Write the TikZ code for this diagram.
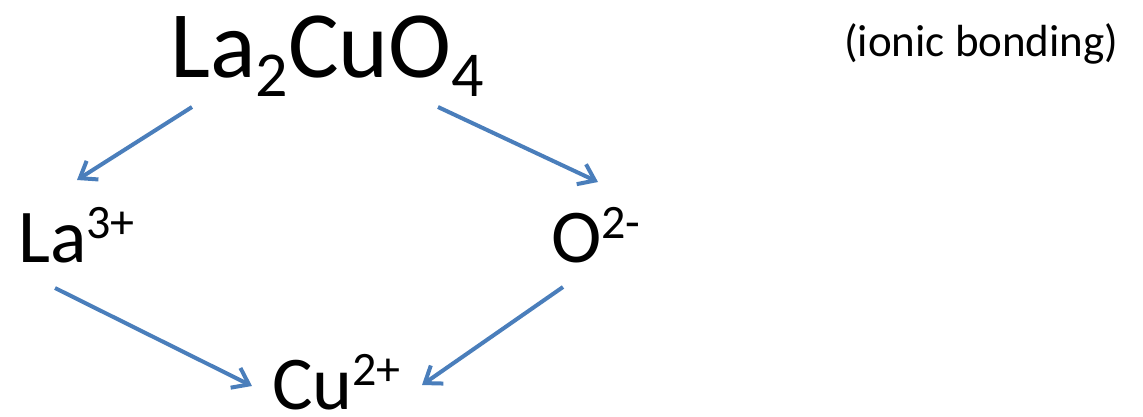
\documentclass[tikz,border=0pt]{standalone}
\usepackage{fontspec}
\setmainfont{Carlito}
\usetikzlibrary{arrows.meta}
\definecolor{arrowblue}{RGB}{74,126,187}
\newcommand{\mysub}[2]{\raisebox{-0.2em}{\fontsize{#1}{#1}\selectfont #2}}
\newcommand{\mysup}[2]{\raisebox{0.31em}{\fontsize{#1}{#1}\selectfont #2}}
\tikzset{
  lbl/.style={anchor=base west, inner sep=0pt, text=black},
  conn/.style={draw=arrowblue, line width=4pt, -{Straight Barb[length=15pt,width=22pt,line width=4pt]}}
}
\begin{document}
\begin{tikzpicture}[x=1pt,y=-1pt]
\useasboundingbox (0,0) rectangle (1143,416);
\node[lbl, font=\fontsize{95}{95}\selectfont] (formula) at (170,77) {La\mysub{64}{2}CuO\mysub{64}{4}};
\node[lbl, font=\fontsize{45}{45}\selectfont] (note) at (844,56) {(ionic bonding)};
\node[lbl, font=\fontsize{76}{76}\selectfont] (la) at (18,262) {La\mysup{48}{3+}};
\node[lbl, font=\fontsize{76}{76}\selectfont] (o) at (551,262) {O\mysup{48}{2-}};
\node[lbl, font=\fontsize{76}{76}\selectfont] (cu) at (272,409) {Cu\mysup{48}{2+}};
\coordinate (a1s) at (192,107); \coordinate (a1e) at (77,180);
\coordinate (a2s) at (438,107); \coordinate (a2e) at (598,182);
\coordinate (a3s) at (55,288);  \coordinate (a3e) at (252,386);
\coordinate (a4s) at (563,287); \coordinate (a4e) at (422,385);
\draw[conn] (a1s) -- (a1e);
\draw[conn] (a2s) -- (a2e);
\draw[conn] (a3s) -- (a3e);
\draw[conn] (a4s) -- (a4e);
\end{tikzpicture}
\end{document}
